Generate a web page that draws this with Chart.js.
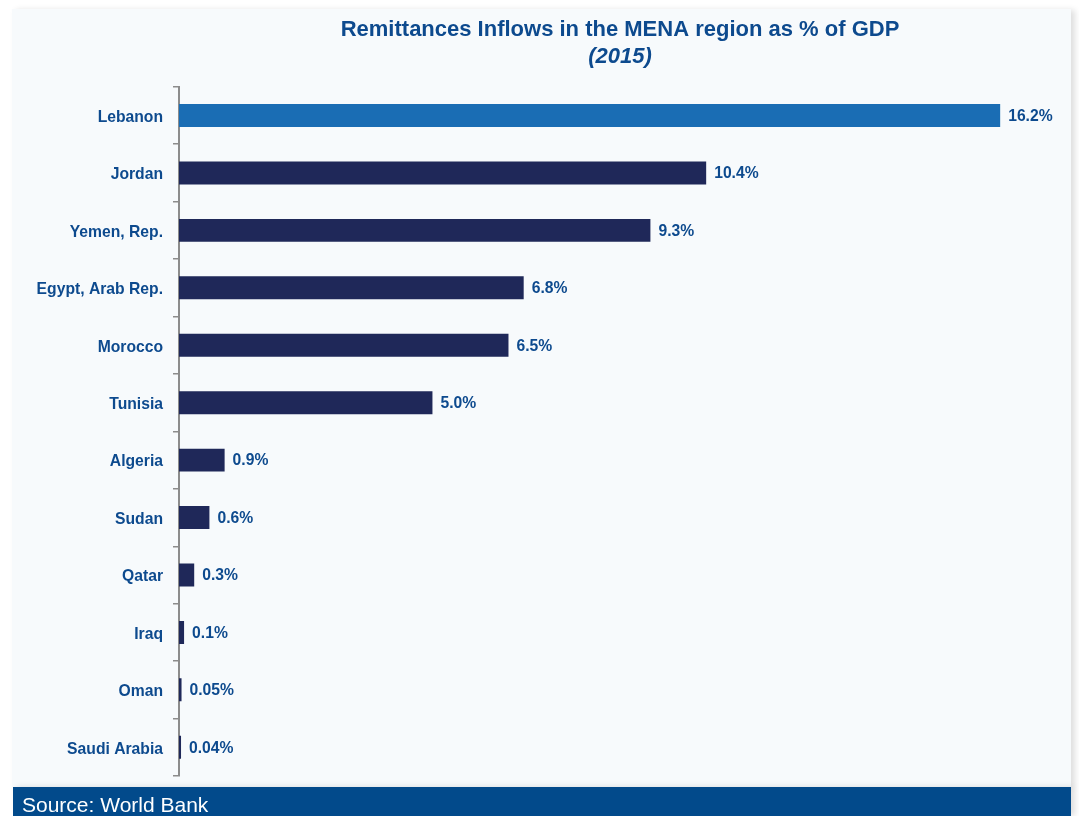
<!DOCTYPE html>
<html>
<head>
<meta charset="utf-8">
<script src="https://cdn.jsdelivr.net/npm/chart.js@4.4.1/dist/chart.umd.min.js"></script>
<style>
  html, body { margin: 0; padding: 0; background: #ffffff; }
  body { width: 1079px; height: 816px; position: relative; overflow: hidden; font-family: "Liberation Sans", Arial, sans-serif; }
  .panel {
    position: absolute; left: 12px; top: 9px; width: 1059px; height: 778px;
    background: #f7fafc; box-shadow: 4px 1px 6px rgba(0,0,0,0.13);
  }
  .panel canvas { display: block; }
  .source {
    position: absolute; left: 13px; top: 787px; width: 1058px; height: 29px;
    background: #024a8b; color: #ffffff; font-size: 21px; line-height: 1;
    box-shadow: 4px 0 6px rgba(0,0,0,0.13);
  }
  .source span { position: absolute; left: 9px; top: 7px; }
</style>
</head>
<body>
<div class="panel"><canvas id="chart" width="1059" height="778"></canvas></div>
<div class="source"><span>Source: World Bank</span></div>
<script>
const countries = ["Lebanon", "Jordan", "Yemen, Rep.", "Egypt, Arab Rep.", "Morocco", "Tunisia",
                   "Algeria", "Sudan", "Qatar", "Iraq", "Oman", "Saudi Arabia"];
const remittances = [16.2, 10.4, 9.3, 6.8, 6.5, 5.0, 0.9, 0.6, 0.3, 0.1, 0.05, 0.04];
const valueLabels = ["16.2%", "10.4%", "9.3%", "6.8%", "6.5%", "5.0%", "0.9%", "0.6%", "0.3%", "0.1%", "0.05%", "0.04%"];
const X_MAX = 17.4;

const TEXT_BLUE = "#0d4a8e";
const LEBANON_BLUE = "#1a6db4";
const NAVY = "#1f2859";
const FONT = "'Liberation Sans', Arial, sans-serif";

// value labels at the end of each bar
const barLabels = {
    id: "barLabels",
    afterDatasetsDraw(chart) {
        const ctx = chart.ctx;
        const meta = chart.getDatasetMeta(0);
        ctx.save();
        ctx.font = "bold 15.7px " + FONT;
        ctx.fillStyle = TEXT_BLUE;
        ctx.textAlign = "left";
        ctx.textBaseline = "middle";
        meta.data.forEach((bar, i) => {
            ctx.fillText(valueLabels[i], bar.x + 8, bar.y + 1);
        });
        ctx.restore();
    },
};

const ctx = document.getElementById("chart").getContext("2d");
new Chart(ctx, {
    type: "bar",
    data: {
        labels: countries,
        datasets: [
            {
                data: remittances,
                backgroundColor: countries.map((c, i) => (i === 0 ? LEBANON_BLUE : NAVY)),
                borderWidth: 0,
                barPercentage: 0.4,
                categoryPercentage: 1,
            },
        ],
    },
    options: {
        indexAxis: "y",
        responsive: false,
        animation: false,
        layout: { padding: { left: 0, right: 10, top: 0, bottom: 11 } },
        scales: {
            x: {
                display: false,
                min: 0,
                max: X_MAX,
            },
            y: {
                afterFit: (scale) => {
                    scale.width = 167;
                    scale.paddingTop = 0;
                    scale.paddingBottom = 0;
                },
                border: { display: true, color: "#8c8c8c", width: 2 },
                grid: {
                    drawOnChartArea: false,
                    drawTicks: true,
                    tickLength: 6,
                    color: "#8c8c8c",
                    lineWidth: 1.5,
                },
                ticks: {
                    padding: 10,
                    labelOffset: 2,
                    color: TEXT_BLUE,
                    font: { family: FONT, size: 15.7, weight: "bold" },
                },
            },
        },
        plugins: {
            legend: { display: false },
            tooltip: { enabled: false },
            title: {
                display: true,
                fullSize: false,
                text: "Remittances Inflows in the MENA region as % of GDP",
                color: TEXT_BLUE,
                font: { family: FONT, size: 22, weight: "bold", lineHeight: 1.2 },
                padding: { top: 8, bottom: 0 },
            },
            subtitle: {
                display: true,
                fullSize: false,
                text: "(2015)",
                color: TEXT_BLUE,
                font: { family: FONT, size: 22, weight: "bold", style: "italic", lineHeight: 1.2 },
                padding: { top: 0, bottom: 17 },
            },
        },
    },
    plugins: [barLabels],
});
</script>
</body>
</html>
